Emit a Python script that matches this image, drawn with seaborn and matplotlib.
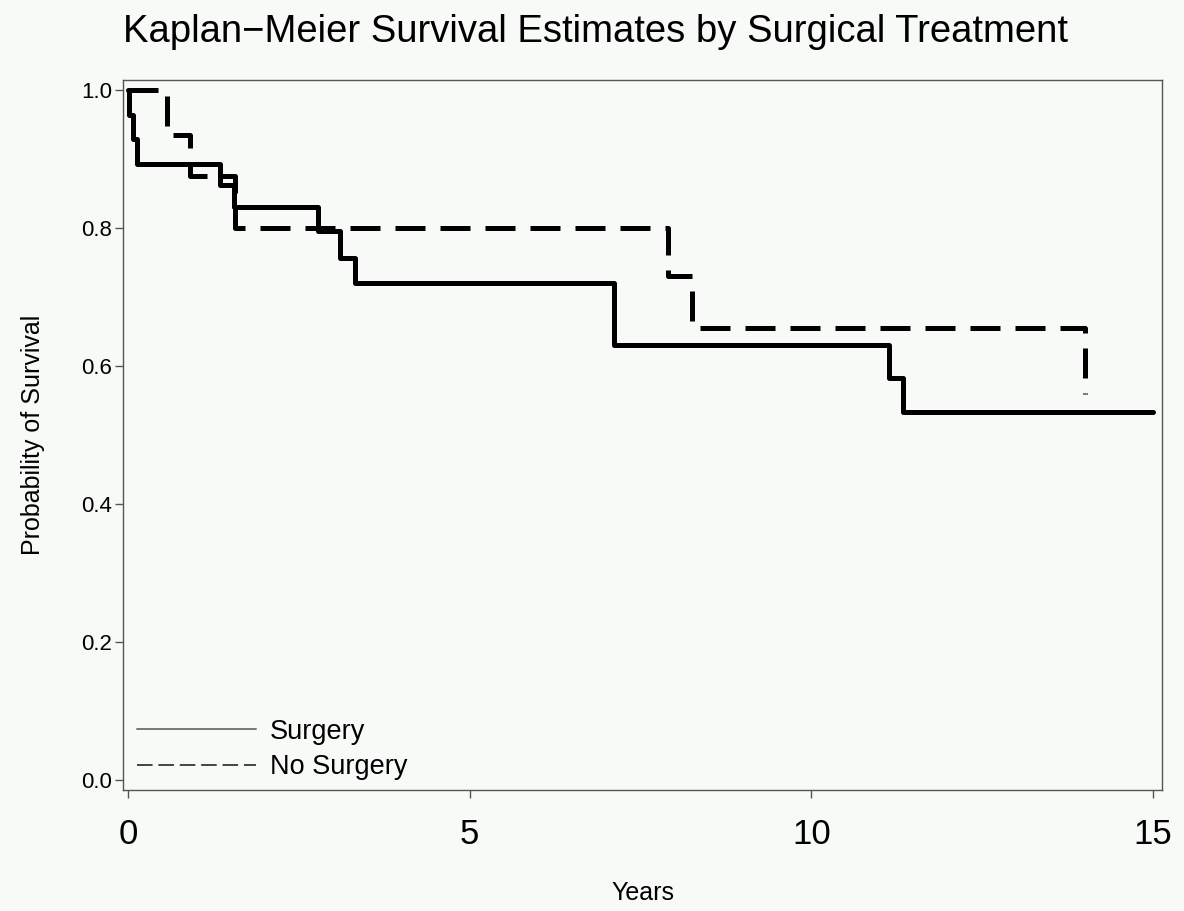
import pandas as pd
import seaborn as sns
import matplotlib.pyplot as plt
from matplotlib.lines import Line2D

# Kaplan-Meier step values (time in years, survival after the step)
surgery_years = [0.0, 0.02, 0.07, 0.13, 1.35, 1.55, 2.78, 3.10, 3.32, 7.11, 11.14, 11.34, 15.0]
surgery_surv = [1.0, 0.964, 0.929, 0.893, 0.862, 0.831, 0.796, 0.757, 0.720, 0.630, 0.582, 0.533, 0.533]

nosurg_years = [0.0, 0.57, 0.90, 1.57, 7.90, 8.25, 14.0]
nosurg_surv = [1.0, 0.935, 0.875, 0.800, 0.730, 0.655, 0.560]

groups = ['Surgery', 'No Surgery']

df = pd.concat([
    pd.DataFrame({'Years': surgery_years, 'Survival': surgery_surv, 'Group': groups[0]}),
    pd.DataFrame({'Years': nosurg_years, 'Survival': nosurg_surv, 'Group': groups[1]}),
])

sns.set_style('ticks')
plt.rcParams['font.family'] = ['Liberation Sans', 'DejaVu Sans']
plt.rcParams['text.color'] = 'black'
plt.rcParams['axes.labelcolor'] = 'black'
plt.rcParams['xtick.color'] = 'black'
plt.rcParams['ytick.color'] = 'black'

bg = '#f7faf7'
fig = plt.figure(figsize=(11.84, 9.11), dpi=100, facecolor=bg)
ax = fig.add_axes([0.1039, 0.1328, 0.8775, 0.7794])
ax.set_facecolor(bg)

sns.lineplot(data=df, x='Years', y='Survival', hue='Group', style='Group',
             palette={'Surgery': 'black', 'No Surgery': 'black'},
             dashes={'Surgery': '', 'No Surgery': (6, 3)},
             estimator=None, sort=False, drawstyle='steps-post',
             linewidth=3.6, legend=False, ax=ax)

ax.set_xlim(-0.073, 15.13)
ax.set_ylim(-0.0145, 1.0145)
ax.set_xticks([0, 5, 10, 15])
ax.set_yticks([0.0, 0.2, 0.4, 0.6, 0.8, 1.0])
ax.set_yticklabels(['0.0', '0.2', '0.4', '0.6', '0.8', '1.0'])
ax.tick_params(axis='x', labelsize=25, length=6, width=1, color='#555555', pad=14)
ax.tick_params(axis='y', labelsize=16, length=6, width=1, color='#555555', pad=2)

for s in ax.spines.values():
    s.set_color('#555555')
    s.set_linewidth(1)

ax.set_xlabel('Years', fontsize=18, labelpad=22)
ax.set_ylabel('Probability of Survival', fontsize=18, labelpad=26)
fig.suptitle('Kaplan\u2212Meier Survival Estimates by Surgical Treatment',
             fontsize=27.5, x=0.503, y=0.985)

handles = [Line2D([], [], color='#777777', lw=1.4),
           Line2D([], [], color='#444444', lw=1.4, dashes=(8, 3))]
ax.legend(handles, groups, loc='lower left', frameon=False, fontsize=19.5,
          handlelength=4.4, handletextpad=0.5, labelspacing=0.35,
          borderpad=0, borderaxespad=0, bbox_to_anchor=(0.0135, 0.014))

fig.savefig('out.png', dpi=100, facecolor=bg)
